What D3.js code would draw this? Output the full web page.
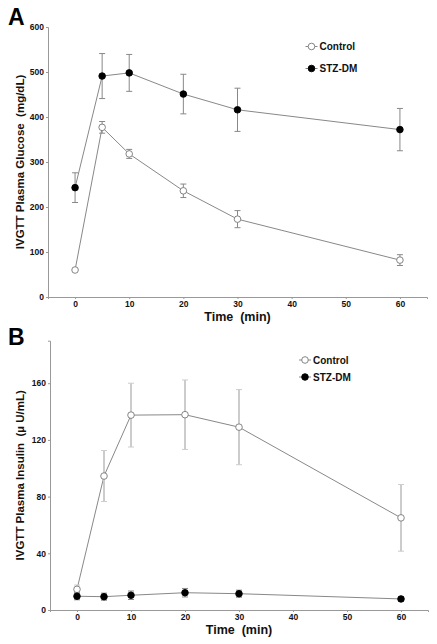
<!DOCTYPE html>
<html><head><meta charset="utf-8">
<script src="https://cdn.jsdelivr.net/npm/d3@7"></script>
<style>body{margin:0;background:#fff}svg{display:block}text{font-family:"Liberation Sans",Arial,sans-serif;font-weight:bold;white-space:pre}</style>
</head><body><svg id="c" width="437" height="644"></svg>
<script>
const times = [0, 5, 10, 20, 30, 60];
const xTicks = [0, 10, 20, 30, 40, 50, 60];
const seriesNames = ["Control", "STZ-DM"];
// Panel A: glucose (mg/dL)
const glucoseControl = [60, 377, 318, 236, 173, 82];
const glucoseControlErr = [0, 13, 10, 15, 19, 12];
const glucoseSTZ = [243, 491, 498, 451, 416, 372];
const glucoseSTZErr = [33, 50, 41, 44, 48, 47];
const glucoseTicks = [0, 100, 200, 300, 400, 500, 600];
// Panel B: insulin (µU/mL)
const insulinControl = [14.6, 94.5, 137.5, 137.8, 129, 65];
const insulinControlErr = [3, 18, 22.5, 24.5, 26.5, 23.5];
const insulinSTZ = [9.7, 9.4, 10.4, 12.2, 11.5, 7.8];
const insulinSTZErr = [2.5, 2.5, 3, 3, 2.5, 1.5];
const insulinTicks = [0, 40, 80, 120, 160];

const svg = d3.select("#c");

function panel(o) {
  const g = svg.append("g");
  const x = d3.scaleLinear().domain([-5, 65]).range([o.left, o.right]);
  const y = d3.scaleLinear().domain(o.yDomain).range([o.bottom, o.top]);
  const xa = g.append("g").attr("transform", `translate(0,${o.bottom})`)
    .call(d3.axisBottom(x).tickValues(xTicks).tickSize(2).tickPadding(2));
  const ya = g.append("g").attr("transform", `translate(${o.left},0)`)
    .call(d3.axisLeft(y).tickValues(o.yTicks).tickSize(2).tickPadding(2));
  [xa, ya].forEach(a => {
    a.select(".domain").attr("stroke", "#999").attr("stroke-width", 1);
    a.selectAll(".tick line").attr("stroke", "#999");
    a.selectAll("text").attr("fill", "#111").style("font-size", "8.5px").style("font-family", "Liberation Sans, Arial").style("font-weight", "bold");
  });
  g.append("text").attr("x", (o.left + o.right) / 2).attr("y", o.bottom + 23.5)
    .attr("text-anchor", "middle").style("font-size", "12.5px").attr("fill", "#111").text("Time  (min)");
  g.append("text").attr("transform", `translate(24,${(o.top + o.bottom) / 2}) rotate(-90)`)
    .attr("text-anchor", "middle").style("font-size", "11.5px").attr("fill", "#111").text(o.yTitle);
  g.append("text").attr("x", 8).attr("y", o.letterY).style("font-size", "23px").attr("fill", "#000").text(o.letter);

  const ser = [
    {vals: o.ctrl, err: o.ctrlErr, fill: "#fff", ec: o.ctrlErrColor, ew: o.ctrlErrW},
    {vals: o.stz, err: o.stzErr, fill: "#000", ec: "#888", ew: 1}
  ];
  const line = d3.line().x((d, i) => x(times[i])).y(d => y(d));
  ser.forEach(s => {
    g.append("path").attr("d", line(s.vals)).attr("fill", "none").attr("stroke", "#888").attr("stroke-width", 1);
  });
  ser.forEach(s => {
    s.vals.forEach((v, i) => {
      if (s.err[i] <= 0) return;
      const cx = x(times[i]);
      const y1 = y(v + s.err[i]), y2 = y(v - s.err[i]);
      g.append("line").attr("x1", cx).attr("x2", cx).attr("y1", y1).attr("y2", y2).attr("stroke", s.ec).attr("stroke-width", s.ew);
      [y1, y2].forEach(yy => g.append("line").attr("x1", cx - 3).attr("x2", cx + 3).attr("y1", yy).attr("y2", yy).attr("stroke", s.ec).attr("stroke-width", 1));
    });
  });
  ser.forEach(s => {
    g.selectAll(null).data(s.vals).enter().append("circle")
      .attr("cx", (d, i) => x(times[i])).attr("cy", d => y(d)).attr("r", o.r)
      .attr("fill", s.fill).attr("stroke", s.fill === "#000" ? "#000" : "#777").attr("stroke-width", 0.9);
  });
  // legend
  seriesNames.forEach((n, i) => {
    const ly = o.legY + i * o.legGap, lx = o.legX;
    g.append("line").attr("x1", lx - 6).attr("x2", lx + 6).attr("y1", ly).attr("y2", ly).attr("stroke", "#888");
    g.append("circle").attr("cx", lx).attr("cy", ly).attr("r", 3.3)
      .attr("fill", i === 0 ? "#fff" : "#000").attr("stroke", i === 0 ? "#777" : "#000").attr("stroke-width", 0.9);
    g.append("text").attr("x", lx + 8).attr("y", ly + 3.5).style("font-size", "10px").attr("fill", "#111").text(n);
  });
}

panel({left: 48, right: 427, top: 27, bottom: 297, yDomain: [0, 600], yTicks: glucoseTicks,
  ctrl: glucoseControl, ctrlErr: glucoseControlErr, stz: glucoseSTZ, stzErr: glucoseSTZErr,
  ctrlErrColor: "#888", ctrlErrW: 1, r: 3.3,
  yTitle: "IVGTT Plasma Glucose  (mg/dL)", letter: "A", letterY: 25,
  legX: 311.5, legY: 46.5, legGap: 22});
panel({left: 50, right: 428, top: 340.7, bottom: 610, yDomain: [0, 190], yTicks: insulinTicks,
  ctrl: insulinControl, ctrlErr: insulinControlErr, stz: insulinSTZ, stzErr: insulinSTZErr,
  ctrlErrColor: "#ccc", ctrlErrW: 2, r: 3.3,
  yTitle: "IVGTT Plasma Insulin  (\u00b5 U/mL)", letter: "B", letterY: 345,
  legX: 305, legY: 360, legGap: 17});
</script></body></html>
